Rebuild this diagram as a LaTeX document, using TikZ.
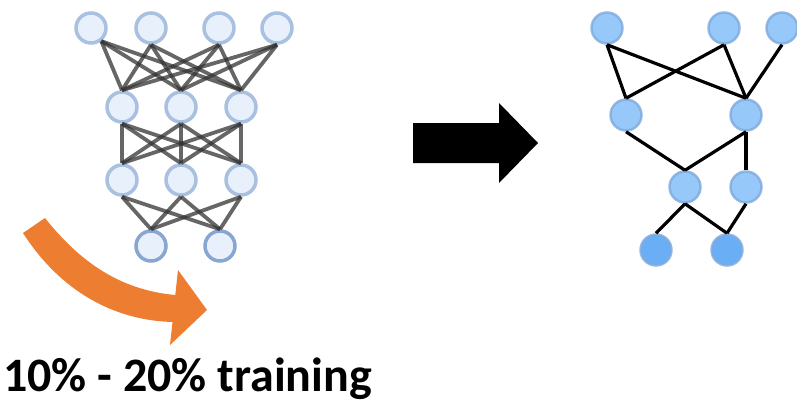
\documentclass[tikz,border=0pt]{standalone}
\usepackage{fontspec}
\setmainfont{Carlito}
\definecolor{paleFill}{HTML}{E8F0FB}
\definecolor{paleRing}{HTML}{A9C0E0}
\definecolor{paleRingDark}{HTML}{88A6D2}
\definecolor{skyFill}{HTML}{96C8FA}
\definecolor{skyDeep}{HTML}{6AAEF6}
\definecolor{skyRing}{HTML}{7FA9DC}
\definecolor{officeOrange}{HTML}{ED7D31}
\tikzset{
  fullnode/.style={circle, inner sep=0pt, minimum size=30pt, line width=3.5pt, draw=paleRing, fill=paleFill},
  fullout/.style={fullnode, draw=paleRingDark},
  prunednode/.style={circle, inner sep=0pt, minimum size=31pt, line width=2.5pt, draw=skyRing, draw opacity=0.8, fill=skyFill},
  prunedout/.style={prunednode, fill=skyDeep},
  denseedge/.style={draw=black!80, draw opacity=0.75, line width=3.8pt},
  keptedge/.style={draw=black, line width=3.2pt},
  bigarrow/.style={fill=black},
  bendarrow/.style={fill=officeOrange}
}
\begin{document}
\begin{tikzpicture}[x=1pt, y=-1pt]
\useasboundingbox (0,0) rectangle (797,404);

% dense network
\node[fullnode] (a1) at (91,28) {};
\node[fullnode] (a2) at (151,28) {};
\node[fullnode] (a3) at (219,28) {};
\node[fullnode] (a4) at (277,28) {};
\node[fullnode] (b1) at (122,107) {};
\node[fullnode] (b2) at (181,107) {};
\node[fullnode] (b3) at (241,107) {};
\node[fullnode] (c1) at (122,180) {};
\node[fullnode] (c2) at (181,180) {};
\node[fullnode] (c3) at (241,180) {};
\node[fullout] (d1) at (151,246) {};
\node[fullout] (d2) at (220,246) {};

\foreach \t in {b1,b2,b3} {
  \draw[denseedge] (a1.-52) -- (\t.north);
  \foreach \s in {a2,a3,a4} \draw[denseedge] (\s.south) -- (\t.north);
}
\foreach \s in {b1,b2,b3}
  \foreach \t in {c1,c2,c3}
    \draw[denseedge] (\s.south) -- (\t.north);
\foreach \s in {c1,c2,c3}
  \foreach \t in {d1,d2}
    \draw[denseedge] (\s.south) -- (\t.north);

% pruned network
\node[prunednode] (p1) at (607,28) {};
\node[prunednode] (p2) at (724,28) {};
\node[prunednode] (p3) at (782,28) {};
\node[prunednode] (q1) at (626,115) {};
\node[prunednode] (q2) at (746,115) {};
\node[prunednode] (r1) at (685,187) {};
\node[prunednode] (r2) at (746,187) {};
\node[prunedout] (s1) at (656,250) {};
\node[prunedout] (s2) at (727,250) {};

\draw[keptedge] (p1.south) -- (q1.north);
\draw[keptedge] (p1.south) -- (q2.north);
\draw[keptedge] (p2.south) -- (q1.north);
\draw[keptedge] (p2.south) -- (q2.north);
\draw[keptedge] (p3.south) -- (q2.north);
\draw[keptedge] (q1.south) -- (r1.north);
\draw[keptedge] (q2.south) -- (r1.north);
\draw[keptedge, line width=4.5pt] (q2.south) -- (r2.north);
\draw[keptedge] (r1.south) -- (s1.north);
\draw[keptedge] (r1.south) -- (s2.north);
\draw[keptedge] (r2.south) -- (s2.north);

% block arrow between the networks
\fill[bigarrow] (413,123) -- (499,123) -- (499,103) -- (538,143) -- (499,183) -- (499,163) -- (413,163) -- cycle;

% curved training arrow
\fill[bendarrow] (45,218) .. controls (80,262) and (120,290) .. (175.3,295)
  -- (178,270) -- (207,310) -- (170,345) -- (172.5,322)
  .. controls (105,320) and (55,283) .. (23,233) -- cycle;

\node[anchor=base west, inner sep=0pt, font=\fontsize{48}{52}\selectfont\bfseries] (lbl) at (3,391) {10\% - 20\% training};
\end{tikzpicture}
\end{document}
